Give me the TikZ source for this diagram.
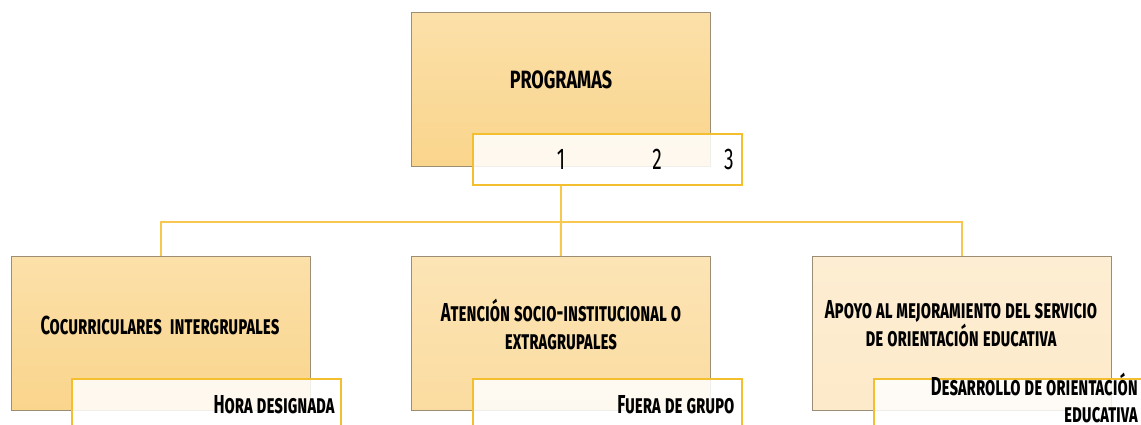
\documentclass[tikz,border=0pt]{standalone}
\usepackage{fontspec}
\setmainfont{Fira Sans}[FakeStretch=0.64]
\newfontfamily\progfont{Fira Sans}[FakeStretch=0.72]
\usetikzlibrary{positioning}
\definecolor{boxA}{HTML}{FAD58C}
\definecolor{boxAtop}{HTML}{FBE0A9}
\definecolor{boxB}{HTML}{FBDCA0}
\definecolor{boxBtop}{HTML}{FCE4B5}
\definecolor{boxC}{HTML}{FDEACA}
\definecolor{boxCtop}{HTML}{FDEDD2}
\definecolor{edgegray}{HTML}{9C8E74}
\definecolor{lineyel}{HTML}{F8C750}
\definecolor{tagborder}{HTML}{F4BF2E}
\tikzset{
  mainbox/.style={draw=edgegray, line width=0.8pt, minimum width=299pt, minimum height=154pt, inner sep=0pt},
  tagbox/.style={draw=tagborder, line width=1.8pt, fill=white, fill opacity=0.85, text opacity=1, minimum width=269pt, minimum height=51pt, inner sep=0pt},
  conn/.style={draw=lineyel, line width=2pt},
  lbl/.style={font=\fontsize{26}{28}\selectfont\bfseries\scshape, text=black, align=center},
  tlbl/.style={font=\fontsize{26}{27}\selectfont\bfseries\scshape, text=black, align=right},
  numlbl/.style={font=\fontsize{30}{30}\selectfont, text=black},
  proglbl/.style={font=\fontsize{25}{28}\selectfont\progfont\bfseries, text=black}
}
\begin{document}
\begin{tikzpicture}[x=1pt,y=-1pt]
\useasboundingbox (0,0) rectangle (1141,425);
\clip (0,0) rectangle (1141,425);
\fill[white] (0,0) rectangle (1141,425);
% top box
\node[mainbox, top color=boxAtop, bottom color=boxA, anchor=north west] (top) at (411,12) {};
\node[proglbl] (toptxt) at (561,80) {PROGRAMAS};
\node[tagbox, anchor=north west] (toptag) at (472,133) {};
\node[numlbl] (n1) at (561,159) {1};
\node[numlbl] (n2) at (657,159) {2};
\node[numlbl] (n3) at (729,159) {3};
% bottom boxes
\node[mainbox, top color=boxAtop, bottom color=boxA, anchor=north west] (b1) at (11,256) {};
\node[mainbox, top color=boxBtop, bottom color=boxB, anchor=north west] (b2) at (411,256) {};
\node[mainbox, top color=boxCtop, bottom color=boxC, anchor=north west] (b3) at (812,256) {};
\node[lbl] (t1) at (160,325) {Cocurriculares\ \ intergrupales};
\node[lbl] (t2) at (561,324) {Atención socio-institucional o\\extragrupales};
\node[lbl] (t3) at (961,324) {Apoyo al mejoramiento del servicio\\de orientación educativa};
\node[tagbox, anchor=north west] (g1) at (71,378) {};
\node[tagbox, anchor=north west] (g2) at (472,378) {};
\node[tagbox, anchor=north west] (g3) at (873,378) {};
\node[tlbl, anchor=east] (l1) at (338,405) {Hora designada};
\node[tlbl, anchor=east] (l2) at (738,405) {Fuera de grupo};
\node[tlbl, anchor=north east, inner sep=0pt] (l3) at (1138,373) {Desarrollo de orientación\\educativa};
% connectors
\coordinate (hub) at (561,222);
\draw[conn] (toptag.south -| hub) -- (hub);
\draw[conn] (b1.north) |- (hub) -| (b3.north);
\draw[conn] (hub) -- (b2.north);
\end{tikzpicture}
\end{document}
